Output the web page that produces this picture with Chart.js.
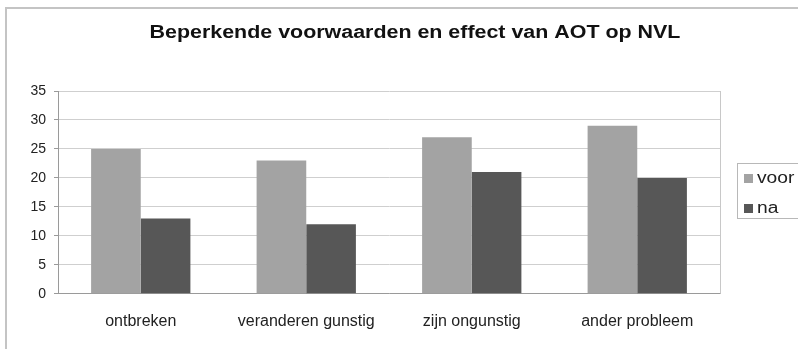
<!DOCTYPE html>
<html><head><meta charset="utf-8">
<script src="https://cdn.jsdelivr.net/npm/chart.js@4/dist/chart.umd.min.js"></script>
<style>html,body{margin:0;padding:0;background:#fff;}#wrap{width:798px;height:349px;}</style>
</head><body><div id="wrap"><canvas id="c" width="798" height="349"></canvas></div>
<script>
const categories = ["ontbreken", "veranderen gunstig", "zijn ongunstig", "ander probleem"];
const seriesNames = ["voor", "na"];
const voorValues = [25, 23, 27, 29];
const naValues = [13, 12, 21, 20];
const yTicks = [0, 5, 10, 15, 20, 25, 30, 35];
const titleText = "Beperkende voorwaarden en effect van AOT op NVL";
const colors = ["#a3a3a3", "#575757"];
const FONT = '"Liberation Sans", Arial, sans-serif';

const deco = {
  id: 'deco',
  beforeDraw(chart) {
    const ctx = chart.ctx;
    ctx.save();
    ctx.fillStyle = '#fff';
    ctx.fillRect(0, 0, chart.width, chart.height);
    ctx.strokeStyle = '#c4c4c4';
    ctx.lineWidth = 2;
    ctx.beginPath();
    ctx.moveTo(6, 349); ctx.lineTo(6, 8); ctx.lineTo(798, 8);
    ctx.stroke();
    ctx.restore();
  },
  afterDraw(chart) {
    const ctx = chart.ctx;
    const a = chart.chartArea;
    ctx.save();
    ctx.strokeStyle = '#c8c8c8';
    ctx.lineWidth = 1;
    ctx.beginPath();
    ctx.moveTo(Math.round(a.right) + 0.5, a.top);
    ctx.lineTo(Math.round(a.right) + 0.5, a.bottom);
    ctx.stroke();
    // title (horizontally stretched like the reference)
    ctx.save();
    ctx.translate(415, 33);
    ctx.scale(1.19, 1);
    ctx.font = 'bold 18px ' + FONT;
    ctx.fillStyle = '#111';
    ctx.textAlign = 'center';
    ctx.textBaseline = 'middle';
    ctx.fillText(titleText, 0, 0);
    ctx.restore();
    // legend
    ctx.strokeStyle = '#b8b8b8';
    ctx.strokeRect(737.5, 163.5, 70, 55);
    ctx.font = '16px ' + FONT;
    ctx.textBaseline = 'middle';
    chart.data.datasets.forEach((ds, i) => {
      const y = 178 + i * 30;
      ctx.fillStyle = ds.backgroundColor;
      ctx.fillRect(744, y - 4, 9, 9);
      ctx.fillStyle = '#222';
      ctx.save();
      ctx.translate(757, y + 1);
      ctx.scale(1.2, 1);
      ctx.fillText(ds.label, 0, 0);
      ctx.restore();
    });
    ctx.restore();
  }
};

new Chart(document.getElementById('c'), {
  type: 'bar',
  data: {
    labels: categories,
    datasets: [
      { label: seriesNames[0], data: voorValues, backgroundColor: colors[0], borderWidth: 0 },
      { label: seriesNames[1], data: naValues, backgroundColor: colors[1], borderWidth: 0 }
    ]
  },
  options: {
    responsive: false,
    animation: false,
    devicePixelRatio: 1,
    layout: { padding: { left: 0, right: 78, top: 91, bottom: 0 } },
    datasets: { bar: { categoryPercentage: 0.6, barPercentage: 1.0 } },
    plugins: {
      legend: { display: false },
      tooltip: { enabled: false },
      title: { display: false }
    },
    scales: {
      x: {
        grid: { display: false, drawTicks: false },
        border: { color: '#9a9a9a' },
        ticks: { color: '#222', padding: 18, font: { family: FONT, size: 16 } }
      },
      y: {
        min: 0, max: 35,
        afterBuildTicks(s) { s.ticks = yTicks.map(v => ({ value: v })); },
        afterFit(s) { s.width = 58; },
        grid: { color: '#cfcfcf', tickLength: 4, tickColor: '#9a9a9a' },
        border: { color: '#9a9a9a' },
        ticks: { color: '#222', padding: 8, font: { family: FONT, size: 14 } }
      }
    }
  },
  plugins: [deco]
});
</script></body></html>
